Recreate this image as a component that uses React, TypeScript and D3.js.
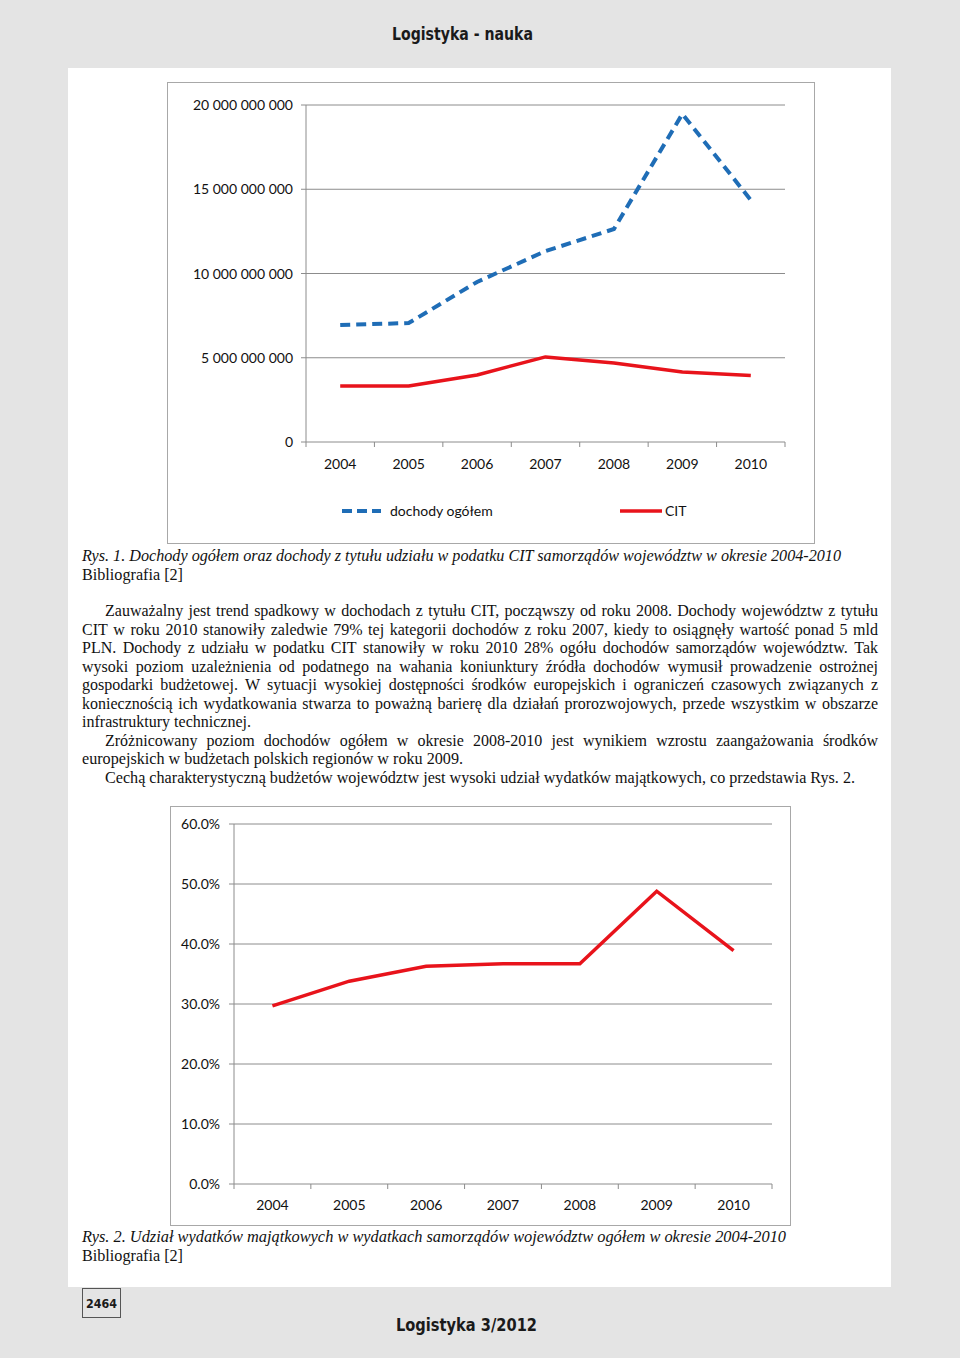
import React from 'react';
import * as d3 from 'd3';

// --- data ---
const years = ['2004', '2005', '2006', '2007', '2008', '2009', '2010'];
const dochodyOgolem = [6.94e9, 7.06e9, 9.5e9, 11.33e9, 12.64e9, 19.47e9, 14.36e9];
const citValues = [3.32e9, 3.32e9, 3.98e9, 5.05e9, 4.69e9, 4.15e9, 3.95e9];
const udzialMajatkowych = [29.7, 33.8, 36.3, 36.7, 36.7, 48.8, 38.9];
const chart1Ticks = [0, 5e9, 10e9, 15e9, 20e9];
const chart2Ticks = [0, 10, 20, 30, 40, 50, 60];
const legendLabels = ['dochody ogółem', 'CIT'];

const BLUE = '#1f6db6';
const RED = '#e8131b';
const GRID = '#8c8c8c';
const LABEL_FONT = 'Lato, "Open Sans", sans-serif';
const SERIF = '"Liberation Serif", "Times New Roman", serif';
const HEAD_FONT = '"DejaVu Sans Condensed", "DejaVu Sans", sans-serif';

// body text: [text, startX, endX, mode, baseline]
type Line = { t: string; x0: number; x1: number; mode: 'justify' | 'fit'; y: number; italic?: boolean };

const caption1: Line[] = [
  { t: 'Rys. 1. Dochody ogółem oraz dochody z tytułu udziału w podatku CIT samorządów województw w okresie 2004-2010', x0: 82, x1: 841, mode: 'fit', y: 561, italic: true },
  { t: 'Bibliografia [2]', x0: 82, x1: 183, mode: 'fit', y: 580 },
];

const bodyLines: Line[] = [
  { t: 'Zauważalny jest trend spadkowy w dochodach z tytułu CIT, począwszy od roku 2008. Dochody województw z tytułu', x0: 105, x1: 878, mode: 'justify', y: 616 },
  { t: 'CIT w roku 2010 stanowiły zaledwie 79% tej kategorii dochodów z roku 2007, kiedy to osiągnęły wartość ponad 5 mld', x0: 82, x1: 878, mode: 'justify', y: 635 },
  { t: 'PLN. Dochody z udziału w podatku CIT stanowiły w roku 2010 28% ogółu dochodów samorządów województw. Tak', x0: 82, x1: 878, mode: 'justify', y: 653 },
  { t: 'wysoki poziom uzależnienia od podatnego na wahania koniunktury źródła dochodów wymusił prowadzenie ostrożnej', x0: 82, x1: 878, mode: 'justify', y: 672 },
  { t: 'gospodarki budżetowej. W sytuacji wysokiej dostępności środków europejskich i ograniczeń czasowych związanych z', x0: 82, x1: 878, mode: 'justify', y: 690 },
  { t: 'koniecznością ich wydatkowania stwarza to poważną barierę dla działań prorozwojowych, przede wszystkim w obszarze', x0: 82, x1: 878, mode: 'justify', y: 709 },
  { t: 'infrastruktury technicznej.', x0: 82, x1: 251, mode: 'fit', y: 727 },
  { t: 'Zróżnicowany poziom dochodów ogółem w okresie 2008-2010 jest wynikiem wzrostu zaangażowania środków', x0: 105, x1: 878, mode: 'justify', y: 746 },
  { t: 'europejskich w budżetach polskich regionów w roku 2009.', x0: 82, x1: 463, mode: 'fit', y: 764 },
  { t: 'Cechą charakterystyczną budżetów województw jest wysoki udział wydatków majątkowych, co przedstawia Rys. 2.', x0: 105, x1: 855, mode: 'fit', y: 783 },
];

const caption2: Line[] = [
  { t: 'Rys. 2. Udział wydatków majątkowych w wydatkach samorządów województw ogółem  w okresie 2004-2010', x0: 82, x1: 786, mode: 'fit', y: 1242, italic: true },
  { t: 'Bibliografia [2]', x0: 82, x1: 183, mode: 'fit', y: 1261 },
];

let ctx: CanvasRenderingContext2D | null = null;
function measure(s: string, font: string) {
  if (!ctx) ctx = document.createElement('canvas').getContext('2d');
  if (!ctx) return s.length * 7;
  ctx.font = font;
  return ctx.measureText(s).width;
}

const TextLine: React.FC<{ line: Line }> = ({ line }) => {
  const size = 16;
  const style = line.italic ? 'italic ' : '';
  if (line.mode === 'fit') {
    return (
      <text x={line.x0} y={line.y} fontFamily={SERIF} fontSize={size} fontStyle={line.italic ? 'italic' : 'normal'}
        textLength={line.x1 - line.x0} lengthAdjust="spacingAndGlyphs" fill="#111">
        {line.t}
      </text>
    );
  }
  const words = line.t.split(/\s+/);
  const font = `${style}${size}px "Liberation Serif"`;
  const widths = words.map((w) => measure(w, font));
  const total = d3.sum(widths);
  let gap = (line.x1 - line.x0 - total) / (words.length - 1);
  let scale = 1;
  if (gap < 2.5) {
    // too long: squeeze glyphs slightly
    scale = (line.x1 - line.x0 - 2.5 * (words.length - 1)) / total;
    gap = 2.5;
  }
  let x = line.x0;
  const xs = widths.map((w) => {
    const cur = x;
    x += w * scale + gap;
    return cur;
  });
  return (
    <g>
      {words.map((w, i) => (
        <text key={i} x={xs[i]} y={line.y} fontFamily={SERIF} fontSize={size} fill="#111"
          textLength={scale < 1 ? widths[i] * scale : undefined} lengthAdjust="spacingAndGlyphs">
          {w}
        </text>
      ))}
    </g>
  );
};

const fmtBig = (v: number) => d3.format(',')(v).replace(/,/g, ' ');

const Chart1: React.FC = () => {
  const x = d3.scaleBand<string>().domain(years).range([306, 785]);
  const y = d3.scaleLinear().domain([0, 20e9]).range([442, 105]);
  const cx = (d: string) => (x(d) ?? 0) + x.bandwidth() / 2;
  const line = d3
    .line<number>()
    .x((_, i) => cx(years[i]))
    .y((d) => y(d));
  const bounds = years.map((d) => x(d) ?? 0).concat([785]);
  return (
    <g>
      <rect x={167.5} y={82.5} width={647} height={461} fill="#fff" stroke="#a8a8a8" />
      {chart1Ticks.map((t) => (
        <g key={t}>
          {t > 0 && <line x1={306} x2={785} y1={y(t)} y2={y(t)} stroke={GRID} />}
          <line x1={301} x2={306} y1={y(t)} y2={y(t)} stroke={GRID} />
          <text x={293} y={y(t) + 5} textAnchor="end" fontFamily={LABEL_FONT} fontSize={14} fill="#111">
            {fmtBig(t)}
          </text>
        </g>
      ))}
      <line x1={306} x2={306} y1={105} y2={442} stroke={GRID} />
      <line x1={306} x2={785} y1={442} y2={442} stroke={GRID} />
      {bounds.map((b, i) => (
        <line key={i} x1={b} x2={b} y1={442} y2={447} stroke={GRID} />
      ))}
      {years.map((d) => (
        <text key={d} x={cx(d)} y={469} textAnchor="middle" fontFamily={LABEL_FONT} fontSize={14} fill="#111">
          {d}
        </text>
      ))}
      <path d={line(citValues) ?? ''} fill="none" stroke={RED} strokeWidth={3.5} strokeLinejoin="round" />
      <path d={line(dochodyOgolem) ?? ''} fill="none" stroke={BLUE} strokeWidth={4} strokeDasharray="10,6" />
      <line x1={342} x2={381} y1={511} y2={511} stroke={BLUE} strokeWidth={4} strokeDasharray="10,5" />
      <text x={390} y={516} fontFamily={LABEL_FONT} fontSize={14} fill="#111">{legendLabels[0]}</text>
      <line x1={620} x2={662} y1={511} y2={511} stroke={RED} strokeWidth={3.5} />
      <text x={665} y={516} fontFamily={LABEL_FONT} fontSize={14} fill="#111">{legendLabels[1]}</text>
    </g>
  );
};

const Chart2: React.FC = () => {
  const x = d3.scaleBand<string>().domain(years).range([234, 772]);
  const y = d3.scaleLinear().domain([0, 60]).range([1184, 824]);
  const cx = (d: string) => (x(d) ?? 0) + x.bandwidth() / 2;
  const line = d3
    .line<number>()
    .x((_, i) => cx(years[i]))
    .y((d) => y(d));
  const bounds = years.map((d) => x(d) ?? 0).concat([772]);
  return (
    <g>
      <rect x={170.5} y={806.5} width={620} height={419} fill="#fff" stroke="#a8a8a8" />
      {chart2Ticks.map((t) => (
        <g key={t}>
          {t > 0 && <line x1={234} x2={772} y1={y(t)} y2={y(t)} stroke={GRID} />}
          <line x1={229} x2={234} y1={y(t)} y2={y(t)} stroke={GRID} />
          <text x={220} y={y(t) + 5} textAnchor="end" fontFamily={LABEL_FONT} fontSize={14} fill="#111">
            {d3.format('.1f')(t)}%
          </text>
        </g>
      ))}
      <line x1={234} x2={234} y1={824} y2={1184} stroke={GRID} />
      <line x1={234} x2={772} y1={1184} y2={1184} stroke={GRID} />
      {bounds.map((b, i) => (
        <line key={i} x1={b} x2={b} y1={1184} y2={1189} stroke={GRID} />
      ))}
      {years.map((d) => (
        <text key={d} x={cx(d)} y={1210} textAnchor="middle" fontFamily={LABEL_FONT} fontSize={14} fill="#111">
          {d}
        </text>
      ))}
      <path d={line(udzialMajatkowych) ?? ''} fill="none" stroke={RED} strokeWidth={3.5} strokeLinejoin="miter" />
    </g>
  );
};

const App: React.FC = () => {
  return (
    <svg width={960} height={1358} style={{ position: 'absolute', left: 0, top: 0 }}>
      <rect x={0} y={0} width={960} height={1358} fill="#e4e4e4" />
      <rect x={68} y={68} width={823} height={1219} fill="#fff" />
      <text x={392} y={40} fontFamily={HEAD_FONT} fontWeight="bold" fontSize={18} fill="#1a1a1a"
        textLength={141} lengthAdjust="spacingAndGlyphs">
        Logistyka - nauka
      </text>
      <Chart1 />
      {caption1.map((l, i) => <TextLine key={'c1' + i} line={l} />)}
      {bodyLines.map((l, i) => <TextLine key={'b' + i} line={l} />)}
      <Chart2 />
      {caption2.map((l, i) => <TextLine key={'c2' + i} line={l} />)}
      <rect x={82.5} y={1288.5} width={38} height={29} fill="none" stroke="#555" />
      <text x={101.5} y={1308} textAnchor="middle" fontFamily={HEAD_FONT} fontWeight="bold" fontSize={13} fill="#1a1a1a"
        textLength={31} lengthAdjust="spacingAndGlyphs">
        2464
      </text>
      <text x={396} y={1331} fontFamily={HEAD_FONT} fontWeight="bold" fontSize={18} fill="#1a1a1a"
        textLength={141} lengthAdjust="spacingAndGlyphs">
        Logistyka 3/2012
      </text>
    </svg>
  );
};

export default App;
